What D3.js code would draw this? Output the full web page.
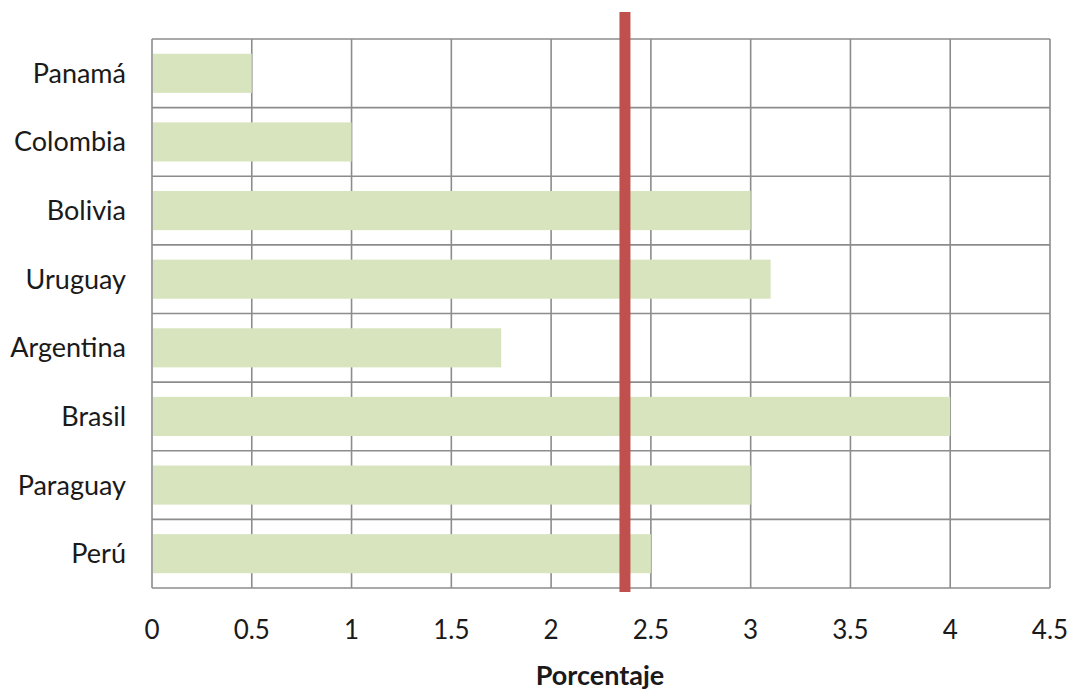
<!DOCTYPE html>
<html><head><meta charset="utf-8">
<script src="https://cdn.jsdelivr.net/npm/d3@7"></script>
<style>body{margin:0;background:#fff}svg{display:block}</style>
</head><body><svg id="c" width="1070" height="693"></svg>
<script>
const categories = ["Panamá","Colombia","Bolivia","Uruguay","Argentina","Brasil","Paraguay","Perú"];
const values = [0.5, 1, 3, 3.1, 1.75, 4, 3, 2.5];
const xTicks = [0,0.5,1,1.5,2,2.5,3,3.5,4,4.5];
const tickLabels = ["0","0.5","1","1.5","2","2.5","3","3.5","4","4.5"];
const refValue = [2.37];
const xTitle = "Porcentaje";

const svg = d3.select("#c");
const L=152, R=1050, T=39, B=588;
const x = d3.scaleLinear().domain([0,4.5]).range([L,R]);
const y = d3.scaleBand().domain(categories).range([T,B]).paddingInner(0.43).paddingOuter(0.215);
const yb = d3.scaleBand().domain(categories).range([T,B]);
const font = "Lato, 'Open Sans', sans-serif";

// grid
const g = svg.append("g").attr("stroke","#8c8c8c").attr("stroke-width",1.6);
g.selectAll("line.v").data(xTicks).join("line").attr("class","v")
  .attr("x1",d=>x(d)).attr("x2",d=>x(d)).attr("y1",T).attr("y2",B);
const hs = categories.map(c=>yb(c)).concat([B]);
g.selectAll("line.h").data(hs).join("line").attr("class","h")
  .attr("x1",L).attr("x2",R).attr("y1",d=>d).attr("y2",d=>d);

// bars (cover vertical grid lines, as in the reference)
svg.append("g").selectAll("rect").data(categories).join("rect")
  .attr("x", x(0)+1).attr("y", d=>y(d))
  .attr("width", (d,i)=>x(values[i])-x(0)-1).attr("height", y.bandwidth())
  .attr("fill","#d7e4bd");

// ref line
svg.append("g").selectAll("line").data(refValue).join("line")
  .attr("x1",d=>x(d)).attr("x2",d=>x(d)).attr("y1",12).attr("y2",592)
  .attr("stroke","#c0504d").attr("stroke-width",11);

// x tick labels
svg.append("g").selectAll("text").data(xTicks).join("text")
  .attr("x",d=>x(d)).attr("y",630).attr("dy","0.35em")
  .attr("text-anchor","middle").attr("font-family",font).attr("font-size",26).attr("fill","#1a1a1a")
  .text((d,i)=>tickLabels[i]);

// y labels
svg.append("g").selectAll("text").data(categories).join("text")
  .attr("x",126).attr("y",d=>yb(d)+yb.bandwidth()/2).attr("dy","0.35em")
  .attr("text-anchor","end").attr("font-family",font).attr("font-size",27).attr("fill","#1a1a1a")
  .text(d=>d);

svg.append("text").attr("x",600).attr("y",676).attr("dy","0.35em")
  .attr("text-anchor","middle").attr("font-family",font).attr("font-size",27).attr("font-weight","bold")
  .attr("fill","#1a1a1a").text(xTitle);
</script></body></html>
